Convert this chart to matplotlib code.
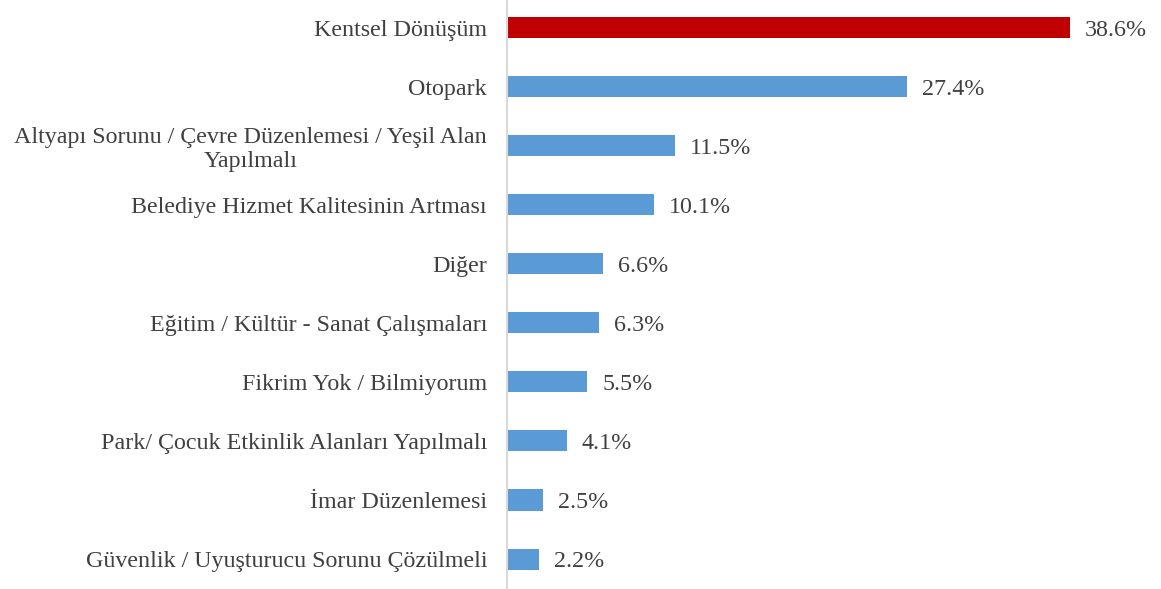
import matplotlib.pyplot as plt

# data
categories = ["Kentsel Dönüşüm", "Otopark",
	"Altyapı Sorunu / Çevre Düzenlemesi / Yeşil Alan\nYapılmalı",
	"Belediye Hizmet Kalitesinin Artması", "Diğer",
	"Eğitim / Kültür - Sanat Çalışmaları", "Fikrim Yok / Bilmiyorum",
	"Park/ Çocuk Etkinlik Alanları Yapılmalı", "İmar Düzenlemesi",
	"Güvenlik / Uyuşturucu Sorunu Çözülmeli"]
values = [38.6, 27.4, 11.5, 10.1, 6.6, 6.3, 5.5, 4.1, 2.5, 2.2]

red = '#c00000'
blue = '#5b9bd5'
txt = '#404040'
fs = 17.3

plt.rcParams['font.family'] = ['Liberation Serif', 'DejaVu Serif']

fig = plt.figure(figsize=(11.61, 5.89), dpi=100)
# axes from the vertical axis line to the right edge
ax = fig.add_axes([507/1161, 0, 654/1161, 1])

ypos = list(range(len(values)))
colors = [red] + [blue]*(len(values)-1)
ax.barh(ypos, values, height=0.356, color=colors, zorder=2)

for y, v in zip(ypos, values):
	ax.annotate('%.1f%%' % v, (v, y), xytext=(10.8, 0), textcoords='offset points',
		va='center_baseline', ha='left', fontsize=fs, color=txt)

ax.set_xlim(0, 654/14.59)
ax.set_ylim(9.507, -0.466)
ax.set_yticks(ypos)
ax.set_yticklabels(categories, fontsize=fs, color=txt, ha='right', multialignment='center')
for lab in ax.get_yticklabels():
	if '\n' not in lab.get_text():
		lab.set_va('center_baseline')
ax.tick_params(axis='y', length=0, pad=14.4)
ax.set_xticks([])
for s in ['top', 'right', 'bottom']:
	ax.spines[s].set_visible(False)
ax.spines['left'].set_color('#d9d9d9')
ax.spines['left'].set_linewidth(1.5)

fig.savefig('out.png', dpi=100)
